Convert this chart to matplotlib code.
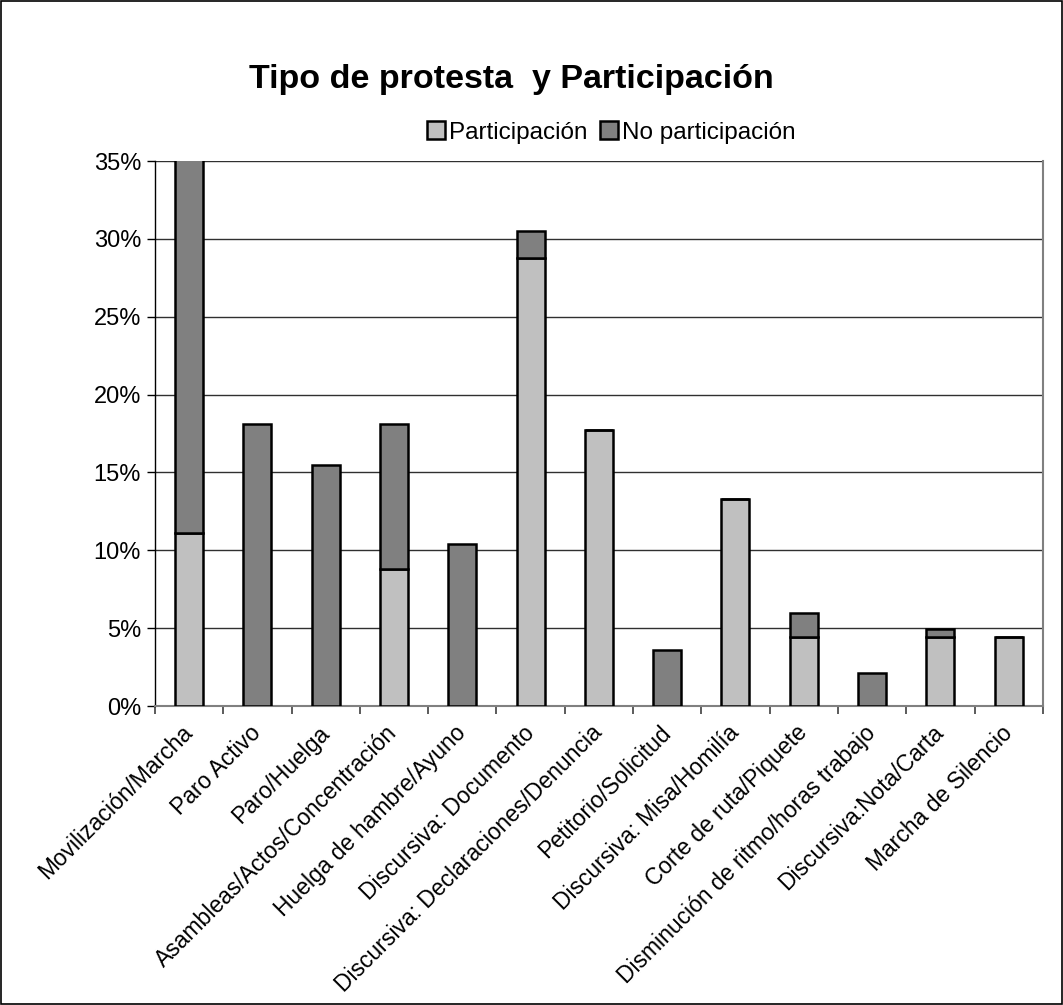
import matplotlib
matplotlib.use("Agg")
import matplotlib.pyplot as plt
from matplotlib.ticker import FuncFormatter, MultipleLocator
from matplotlib.patches import Rectangle
import numpy as np

plt.rcParams["font.family"] = ["Liberation Sans", "DejaVu Sans"]

# -----------------------------
# Data (share of protests, %)
# -----------------------------
categories = [
    "Movilización/Marcha",
    "Paro Activo",
    "Paro/Huelga",
    "Asambleas/Actos/Concentración",
    "Huelga de hambre/Ayuno",
    "Discursiva: Documento",
    "Discursiva: Declaraciones/Denuncia",
    "Petitorio/Solicitud",
    "Discursiva: Misa/Homilía",
    "Corte de ruta/Piquete",
    "Disminución de ritmo/horas trabajo",
    "Discursiva:Nota/Carta",
    "Marcha de Silencio",
]
participacion = [11.1, 0, 0, 8.8, 0, 28.8, 17.7, 0, 13.3, 4.4, 0, 4.4, 4.4]
no_participacion = [29.0, 18.1, 15.5, 9.3, 10.4, 1.7, 0, 3.6, 0, 1.6, 2.1, 0.55, 0]

light = "#C0C0C0"
dark = "#808080"

fig = plt.figure(figsize=(10.63, 10.05), dpi=100)
ax = fig.add_axes([0.1458, 0.2975, 0.981 - 0.1458, 0.8398 - 0.2975])

x = np.arange(len(categories))
width = 0.41

ax.bar(x, participacion, width, color=light, edgecolor="black",
       linewidth=1.8, label="Participación", zorder=3)
ax.bar(x, no_participacion, width, bottom=participacion, color=dark,
       edgecolor="black", linewidth=1.8, label="No participación", zorder=3)

ax.set_xlim(-0.5, len(categories) - 0.5)
ax.set_ylim(0, 35)
ax.yaxis.set_major_locator(MultipleLocator(5))
ax.yaxis.set_major_formatter(FuncFormatter(lambda v, p: f"{v:.0f}%"))
ax.grid(True, axis="y", color="#303030", linewidth=1.0, zorder=0)

ax.set_xticks(x - 0.12)
ax.set_xticklabels(categories, rotation=45, ha="right",
                   rotation_mode="anchor", fontsize=16.5)
ax.tick_params(axis="x", length=0, pad=11)
ax.set_xticks(np.arange(-0.5, len(categories)), minor=True)
ax.tick_params(axis="x", which="minor", length=6, color="#404040",
               direction="out", width=1.2)
ax.tick_params(axis="y", labelsize=17, length=6, color="black",
               direction="out", width=1.0, pad=4)

ax.spines["left"].set_color("black")
ax.spines["left"].set_linewidth(1.0)
for side in ["right", "bottom"]:
    ax.spines[side].set_color("#808080")
    ax.spines[side].set_linewidth(1.5)
ax.spines["top"].set_visible(False)

fig.text(0.481, 0.921, "Tipo de protesta  y Participación", ha="center",
         va="center", fontsize=24.5, fontweight="bold")

fig.legend(loc="center", bbox_to_anchor=(0.575, 0.868), ncol=2, frameon=False,
           fontsize=17.5, handlelength=0.75, handleheight=0.75,
           handletextpad=0.15, columnspacing=0.5)

fig.patches.append(Rectangle((0.001, 0.001), 0.998, 0.998, transform=fig.transFigure,
                             fill=False, edgecolor="black", linewidth=1.2))

plt.savefig("out.png", dpi=100)
plt.close()
